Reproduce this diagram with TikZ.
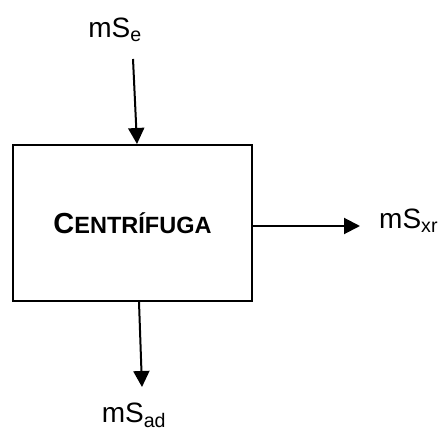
\documentclass[tikz,border=0pt]{standalone}
\usepackage{fontspec}
\setmainfont{Liberation Sans}
\usetikzlibrary{arrows.meta}

\begin{document}
\begin{tikzpicture}[x=1pt,y=1pt,
    flow/.style={line width=2pt,-{Triangle[length=16pt,width=16pt]}},
    stream/.style={font=\fontsize{28}{30}\selectfont,inner sep=0pt}]
    \useasboundingbox (0,0) rectangle (439,431);% page size
    % the centrifuge block
    \node[draw,line width=2pt,minimum width=239pt,minimum height=156pt,inner sep=0pt] (centrifuga) at (132.5,208)
        {\bfseries{\fontsize{29}{30}\selectfont C}{\fontsize{23.5}{30}\selectfont ENTRÍFUGA}};
    % stream labels
    \node[stream,anchor=base] (mse) at (115,393) {mS\textsubscript{e}};
    \node[stream,anchor=base west] (msxr) at (379,202) {mS\textsubscript{xr}};
    \node[stream,anchor=base] (msad) at (134,9) {mS\textsubscript{ad}};
    \coordinate (inS) at (133,372);
    \coordinate (xrE) at (360,205);
    \coordinate (adE) at (142,44);
    % streams in and out
    \draw[flow] (inS) -- ([xshift=4.5pt]centrifuga.north);
    \draw[flow] (centrifuga.east |- xrE) -- (xrE);
    \draw[flow] ([xshift=6.5pt]centrifuga.south) -- (adE);
\end{tikzpicture}
\end{document}
